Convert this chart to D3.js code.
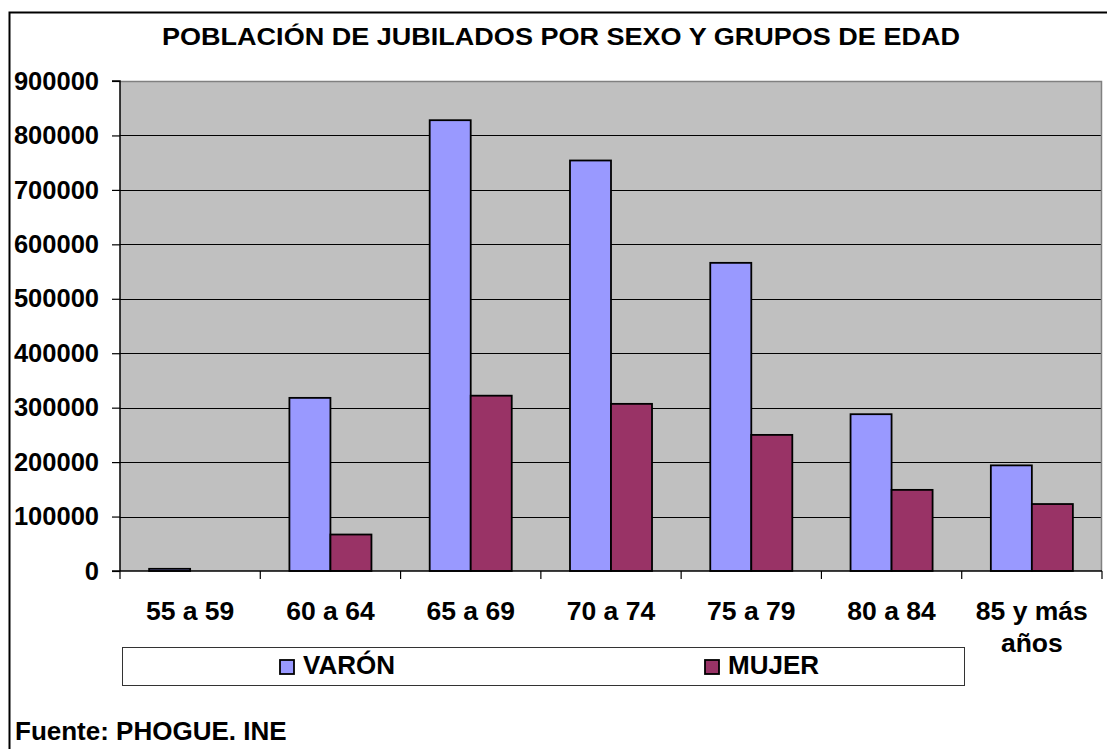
<!DOCTYPE html>
<html>
<head>
<meta charset="utf-8">
<script src="https://cdn.jsdelivr.net/npm/d3@7"></script>
<style>
  html, body { margin: 0; padding: 0; background: #fff; }
  svg { display: block; font-family: "Liberation Sans", Arial, sans-serif; font-weight: bold; }
</style>
</head>
<body>
<svg id="chart" width="1107" height="749"></svg>
<script>
const categories = ["55 a 59", "60 a 64", "65 a 69", "70 a 74", "75 a 79", "80 a 84", "85 y más años"];
const seriesNames = ["VARÓN", "MUJER"];
const varon = [4000, 318000, 828000, 754000, 566000, 288000, 194000];
const mujer = [0, 67000, 322000, 307000, 250000, 149000, 123000];
const yTicks = [0, 100000, 200000, 300000, 400000, 500000, 600000, 700000, 800000, 900000];
const titleText = "POBLACIÓN DE JUBILADOS POR SEXO Y GRUPOS DE EDAD";
const sourceText = "Fuente: PHOGUE. INE";

const colors = { "VARÓN": "#9999FF", "MUJER": "#993366" };
const seriesData = { "VARÓN": varon, "MUJER": mujer };

const svg = d3.select("#chart");
const plot = { left: 120, right: 1102, top: 81, bottom: 571 };

// outer chart border
svg.append("rect")
  .attr("x", 9.5).attr("y", 12.5)
  .attr("width", 1130).attr("height", 760)
  .attr("fill", "#fff").attr("stroke", "#000").attr("stroke-width", 2);

// title
svg.append("text")
  .attr("x", 162).attr("y", 45)
  .attr("textLength", 798).attr("lengthAdjust", "spacingAndGlyphs")
  .attr("font-size", 23)
  .attr("fill", "#000")
  .text(titleText);

const x = d3.scaleBand().domain(categories).range([plot.left, plot.right]).paddingInner(0).paddingOuter(0);
const x1 = d3.scaleBand().domain(seriesNames).range([0, x.bandwidth()]).paddingInner(0).paddingOuter(0.71);
const y = d3.scaleLinear().domain([0, 900000]).range([plot.bottom, plot.top]);

// plot background
svg.append("rect")
  .attr("x", plot.left).attr("y", plot.top)
  .attr("width", plot.right - plot.left).attr("height", plot.bottom - plot.top)
  .attr("fill", "#C0C0C0");

// gridlines
svg.append("g").selectAll("line")
  .data(yTicks.filter(d => d > 0 && d < 900000))
  .join("line")
  .attr("x1", plot.left).attr("x2", plot.right)
  .attr("y1", d => Math.round(y(d)) + 0.5).attr("y2", d => Math.round(y(d)) + 0.5)
  .attr("stroke", "#000").attr("stroke-width", 1);

// plot border top/right (gray)
svg.append("path")
  .attr("d", `M${plot.left},${plot.top + 0.5}H${plot.right - 0.5}V${plot.bottom}`)
  .attr("fill", "none").attr("stroke", "#808080").attr("stroke-width", 1.5);

// bars
const groups = svg.append("g").selectAll("g")
  .data(categories)
  .join("g")
  .attr("transform", d => `translate(${x(d)},0)`);

groups.selectAll("rect")
  .data((c, i) => seriesNames.map(s => ({ s, v: seriesData[s][i] })))
  .join("rect")
  .attr("x", d => x1(d.s))
  .attr("width", x1.bandwidth())
  .attr("y", d => y(d.v))
  .attr("height", d => y(0) - y(d.v))
  .attr("fill", d => colors[d.s])
  .attr("stroke", "#000").attr("stroke-width", 1.8);

// y axis
const yAxis = d3.axisLeft(y).tickValues(yTicks).tickSize(8).tickPadding(13).tickFormat(d3.format("d"));
const gy = svg.append("g").attr("transform", `translate(${plot.left},0)`).call(yAxis);
gy.select(".domain").attr("stroke", "#000").attr("stroke-width", 1.5).attr("d", `M-8,${plot.top}H0V${plot.bottom}`);
gy.selectAll(".tick line").attr("stroke", "#000").attr("stroke-width", 1.2);
gy.selectAll(".tick text")
  .attr("font-family", "Liberation Sans, Arial, sans-serif")
  .attr("font-weight", "bold").attr("font-size", 25.5).attr("fill", "#000");

// x axis line and ticks at band boundaries
const boundaries = categories.map(c => x(c)).concat([plot.right]);
svg.append("line")
  .attr("x1", plot.left - 8).attr("x2", plot.right)
  .attr("y1", plot.bottom).attr("y2", plot.bottom)
  .attr("stroke", "#000").attr("stroke-width", 1.5);
svg.append("g").selectAll("line")
  .data(boundaries)
  .join("line")
  .attr("x1", d => d).attr("x2", d => d)
  .attr("y1", plot.bottom).attr("y2", plot.bottom + 8)
  .attr("stroke", "#000").attr("stroke-width", 1.2);

// category labels
const catLabels = svg.append("g").selectAll("text")
  .data(categories)
  .join("text")
  .attr("x", d => x(d) + x.bandwidth() / 2)
  .attr("y", 620)
  .attr("text-anchor", "middle")
  .attr("font-size", 26.5)
  .attr("fill", "#000");
catLabels.each(function(d) {
  const t = d3.select(this);
  if (d === "85 y más años") {
    t.append("tspan").attr("x", x(d) + x.bandwidth() / 2).attr("dy", 0).text("85 y más");
    t.append("tspan").attr("x", x(d) + x.bandwidth() / 2).attr("dy", 32).text("años");
  } else {
    t.text(d);
  }
});

// legend
svg.append("rect")
  .attr("x", 122.5).attr("y", 647.5).attr("width", 842).attr("height", 38)
  .attr("fill", "#fff").attr("stroke", "#333").attr("stroke-width", 1);
const legendPos = { "VARÓN": 280, "MUJER": 705 };
const lg = svg.append("g").selectAll("g")
  .data(seriesNames)
  .join("g")
  .attr("transform", d => `translate(${legendPos[d]},660)`);
lg.append("rect")
  .attr("width", 14).attr("height", 14)
  .attr("fill", d => colors[d]).attr("stroke", "#000").attr("stroke-width", 1.8);
lg.append("text")
  .attr("x", 23).attr("y", 13.5)
  .attr("font-size", 26).attr("fill", "#000")
  .text(d => d);

// source
svg.append("text")
  .attr("x", 15).attr("y", 740)
  .attr("font-size", 26).attr("fill", "#000")
  .text(sourceText);
</script>
</body>
</html>
